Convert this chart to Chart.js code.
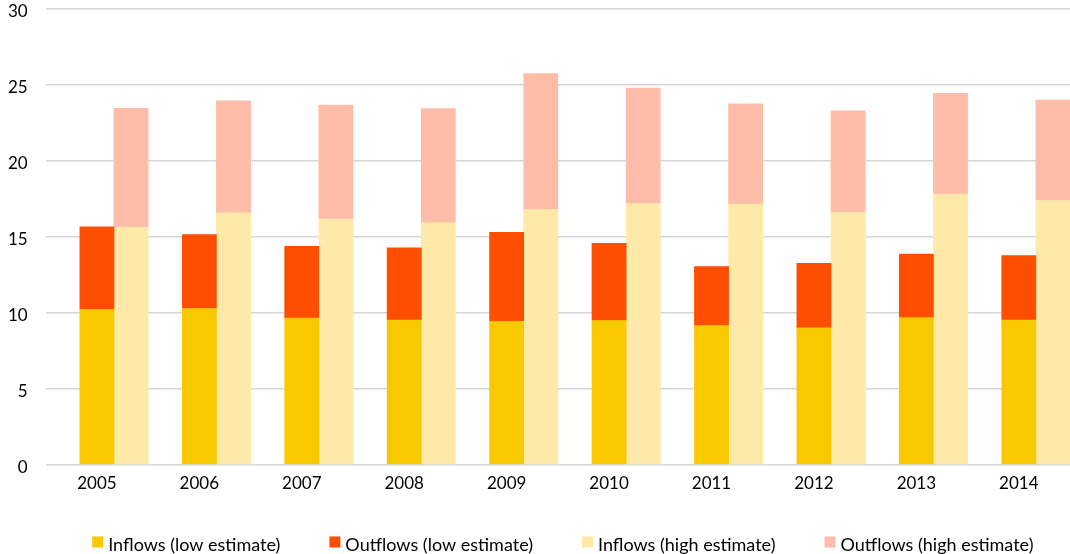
<!DOCTYPE html>
<html>
<head>
<meta charset="utf-8">
<script src="https://cdn.jsdelivr.net/npm/chart.js@4/dist/chart.umd.min.js"></script>
<style>
  html, body { margin: 0; padding: 0; background: #ffffff; }
  #wrap { width: 1070px; height: 554px; position: relative; }
</style>
</head>
<body>
<div id="wrap"><canvas id="c" width="1070" height="554"></canvas></div>
<script>
const years = ['2005','2006','2007','2008','2009','2010','2011','2012','2013','2014'];
const inflowsLow   = [10.23, 10.28, 9.64, 9.51, 9.44, 9.49, 9.16, 9.00, 9.68, 9.51];
const outflowsLow  = [5.43, 4.86, 4.73, 4.77, 5.85, 5.08, 3.88, 4.25, 4.18, 4.25];
const inflowsHigh  = [15.62, 16.58, 16.16, 15.93, 16.80, 17.19, 17.15, 16.60, 17.81, 17.39];
const outflowsHigh = [7.84, 7.38, 7.52, 7.51, 8.94, 7.61, 6.61, 6.70, 6.63, 6.62];
// empty slot that reproduces the reference's offset of the bar pairs inside each category
const spacer       = [0, 0, 0, 0, 0, 0, 0, 0, 0, 0];
const yTicks = [0, 5, 10, 15, 20, 25, 30];

const FONT = 'Lato, "Open Sans", sans-serif';

const legendPlugin = {
  id: 'customLegend',
  afterDraw(chart) {
    const ctx = chart.ctx;
    const items = chart.data.datasets.filter(d => !d.isSpacer);
    const box = 11, gapText = 5, gapItem = 49;
    ctx.save();
    ctx.font = '18px ' + FONT;
    const widths = items.map(d => ctx.measureText(d.label).width);
    let total = 0;
    widths.forEach((w, i) => { total += box + gapText + w + (i < widths.length - 1 ? gapItem : 0); });
    const ca = chart.chartArea;
    let x = (ca.left + ca.right) / 2 + 5 - total / 2;
    const boxTop = 536.5;
    items.forEach((d, i) => {
      ctx.fillStyle = d.backgroundColor;
      ctx.fillRect(x, boxTop, box, box);
      x += box + gapText;
      ctx.fillStyle = '#000';
      ctx.textBaseline = 'alphabetic';
      ctx.textAlign = 'left';
      ctx.fillText(d.label, x, 550.5);
      x += widths[i] + gapItem;
    });
    ctx.restore();
  }
};

new Chart(document.getElementById('c'), {
  type: 'bar',
  data: {
    labels: years,
    datasets: [
      { label: '', data: spacer, backgroundColor: 'rgba(0,0,0,0)', stack: 'spacer', isSpacer: true },
      { label: 'Inflows (low estimate)', data: inflowsLow, backgroundColor: '#F9C900', stack: 'low' },
      { label: 'Outflows (low estimate)', data: outflowsLow, backgroundColor: '#FF4E00', stack: 'low' },
      { label: 'Inflows (high estimate)', data: inflowsHigh, backgroundColor: '#FEE9A8', stack: 'high' },
      { label: 'Outflows (high estimate)', data: outflowsHigh, backgroundColor: '#FEBCA9', stack: 'high' }
    ]
  },
  plugins: [legendPlugin],
  options: {
    responsive: false,
    animation: false,
    devicePixelRatio: 1,
    layout: { padding: { left: 0, right: 0, top: 0, bottom: 51 } },
    datasets: { bar: { categoryPercentage: 1.0, barPercentage: 1.0, borderWidth: 0 } },
    scales: {
      x: {
        stacked: true,
        grid: { display: false, drawTicks: false },
        border: { display: false },
        ticks: { color: '#000', font: { family: FONT, size: 17 }, padding: 9, maxRotation: 0 }
      },
      y: {
        stacked: true,
        min: 0, max: 30,
        afterBuildTicks: (axis) => { axis.ticks = yTicks.map(v => ({ value: v })); },
        afterFit: (scale) => { scale.width = 45.7; scale.paddingTop = 9; scale.paddingBottom = 0; },
        grid: { color: '#D6D6D6', lineWidth: 1.5, drawTicks: false },
        border: { display: false },
        ticks: { color: '#000', font: { family: FONT, size: 17 }, padding: 18, labelOffset: 2.5 }
      }
    },
    plugins: {
      legend: { display: false },
      tooltip: { enabled: false }
    }
  }
});
</script>
</body>
</html>
